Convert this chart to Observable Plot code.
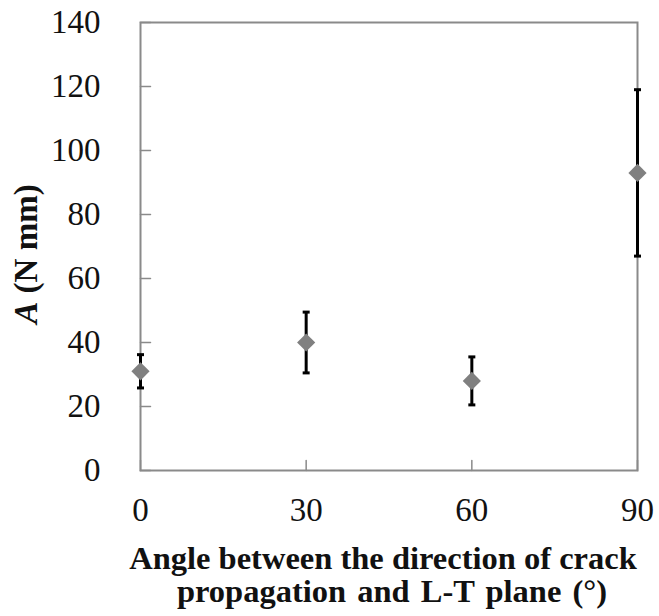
<!DOCTYPE html>
<html>
<head>
<meta charset="utf-8">
<script src="https://cdn.jsdelivr.net/npm/d3@7"></script>
<script src="https://cdn.jsdelivr.net/npm/@observablehq/plot@0.6"></script>
<style>
  html, body { margin: 0; padding: 0; background: #fff; }
  #chart { width: 659px; height: 616px; }
</style>
</head>
<body>
<div id="chart"></div>
<script>
const angles = [0, 30, 60, 90];
const meanA = [31, 40, 28, 93];
const errA = [5.2, 9.5, 7.5, 26];
const xTicks = [0, 30, 60, 90];
const yTicks = [0, 20, 40, 60, 80, 100, 120, 140];
const xLabelLines = ["Angle between the direction of crack", "propagation and L-T plane (°)"];
const yLabelItalic = "A";
const yLabelRest = " (N mm)";

const data = angles.map((a, i) => ({angle: a, mean: meanA[i], lo: meanA[i] - errA[i], hi: meanA[i] + errA[i]}));

const serif = "'Liberation Serif', 'Times New Roman', serif";
const frameColor = "#8a8a8a";
const tickFont = 33;

const tickShape = {draw(context, l) { context.moveTo(0, 0); context.lineTo(0, -l); }};
const capSymbol = {draw(context, size) { const w = 3.5; context.moveTo(-w, 0); context.lineTo(w, 0); }};

const chart = Plot.plot({
  width: 659,
  height: 616,
  marginLeft: 140,
  marginRight: 22,
  marginTop: 22,
  marginBottom: 146,
  style: {fontFamily: serif, fontSize: tickFont + "px", background: "#fff"},
  x: {domain: [0, 90]},
  y: {domain: [0, 140]},
  marks: [
    Plot.axisY({ticks: yTicks, tickSize: 0, tickPadding: 40, fontSize: tickFont, label: null, fill: "#111"}),
    Plot.axisX({ticks: xTicks, tickSize: 0, tickPadding: 27, fontSize: tickFont, label: null, fill: "#111"}),
    Plot.vector(yTicks, {x: 0, y: d => d, length: 10, rotate: 90, anchor: "start", shape: tickShape, stroke: frameColor, strokeWidth: 1.5}),
    Plot.vector(xTicks, {x: d => d, y: 0, length: 10, rotate: 0, anchor: "start", shape: tickShape, stroke: frameColor, strokeWidth: 1.5}),
    Plot.frame({stroke: frameColor, strokeWidth: 2}),
    Plot.ruleX(data, {x: "angle", y1: "lo", y2: "hi", stroke: "#000", strokeWidth: 3}),
    Plot.dot(data, {x: "angle", y: "lo", symbol: capSymbol, stroke: "#000", strokeWidth: 3, r: 3}),
    Plot.dot(data, {x: "angle", y: "hi", symbol: capSymbol, stroke: "#000", strokeWidth: 3, r: 3}),
    Plot.dot(data, {x: "angle", y: "mean", symbol: "diamond2", fill: "#808080", stroke: null, r: 8.2})
  ]
});

document.getElementById("chart").appendChild(chart);

const svg = d3.select(chart);
svg.selectAll("g[aria-label$='tick label']").attr("font-size", tickFont);

const xl = svg.append("text")
  .attr("text-anchor", "middle")
  .attr("font-family", serif)
  .attr("font-weight", "bold")
  .attr("font-size", 32.5)
  .attr("fill", "#111");
const xLabelX = [383, 392];
xLabelLines.forEach((line, i) => {
  xl.append("tspan").attr("x", xLabelX[i]).attr("y", 569 + i * 33)
    .attr("word-spacing", i === 1 ? 3 : 0).text(line);
});

const yl = svg.append("text")
  .attr("text-anchor", "middle")
  .attr("transform", "translate(37,254) rotate(-90)")
  .attr("font-family", serif)
  .attr("font-weight", "bold")
  .attr("font-size", 33)
  .attr("fill", "#111");
yl.append("tspan").attr("font-style", "italic").text(yLabelItalic);
yl.append("tspan").text(yLabelRest);
</script>
</body>
</html>
